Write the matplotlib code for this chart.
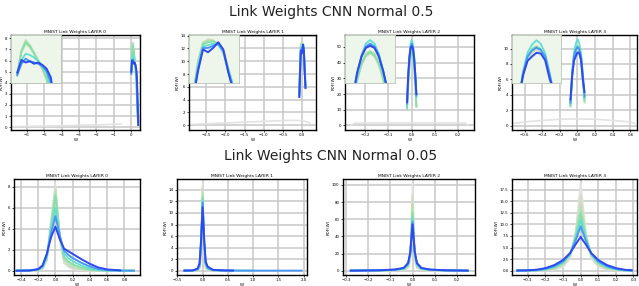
import numpy as np
import matplotlib
matplotlib.use("Agg")
import matplotlib.pyplot as plt

nan = float("nan")

# ---------------- data ----------------
SERIES_COLORS = ['#e2e2e2', '#d3dbc2', '#b2e3b2', '#86dfa6', '#62dfd3', '#4a98f4', '#2d4af0']
SERIES_WIDTHS = [1.3, 1.3, 1.3, 1.3, 1.3, 1.4, 1.4]

TOP_TITLE = "Link Weights CNN Normal 0.5"
BOTTOM_TITLE = "Link Weights CNN Normal 0.05"
LAYER_TITLES = ["MNIST Link Weights LAYER 0", "MNIST Link Weights LAYER 1",
                "MNIST Link Weights LAYER 2", "MNIST Link Weights LAYER 3"]

# top row (Normal 0.5): faint broad series + narrow series (beige..blue)
T1_FAINT_X = [-6.9, -6.0, -5.0, -4.0, -3.0, -2.0, -1.0, -0.6]
T1_FAINT_Y = [0.05, 0.08, 0.10, 0.13, 0.17, 0.21, 0.26, 0.28]
T1_X = [0.00, 0.04, 0.08, 0.12, 0.16, 0.20, 0.24, 0.28, 0.32, 0.36, 0.40]
T1_Y = [
    [4.7, 6.6, 7.3, 7.0, 6.5, 5.9, 5.2, 4.4, 2.8, 1.1, 0.2],
    [4.8, 6.8, 7.6, 7.2, 6.6, 6.0, 5.4, 4.6, 3.0, 1.2, 0.2],
    [5.0, 6.7, 7.4, 7.1, 6.5, 5.9, 5.3, 4.5, 2.9, 1.2, 0.2],
    [4.9, 6.0, 6.5, 6.4, 6.2, 5.9, 5.5, 5.0, 3.6, 1.6, 0.3],
    [4.8, 5.7, 6.1, 5.9, 5.8, 5.7, 5.5, 5.1, 4.2, 2.2, 0.5],
    [5.0, 6.0, 5.8, 5.9, 5.7, 5.8, 5.6, 5.3, 4.6, 2.4, 0.2],
]
T2_FAINT_X = [-2.8, -2.4, -2.0, -1.6, -1.2, -0.8, -0.4, 0.0, 0.21]
T2_FAINT_Y = [0.15, 0.25, 0.35, 0.45, 0.55, 0.65, 0.75, 0.75, 0.35]
T2_X = [-0.07, -0.05, -0.03, -0.01, 0.01, 0.03, 0.05, 0.07, 0.09]
T2_Y = [
    [5.0, 9.8, 12.6, 13.0, 12.9, 12.2, 11.0, 8.3, 5.8],
    [5.2, 10.0, 12.5, 12.8, 12.8, 12.3, 11.2, 8.6, 6.0],
    [5.0, 9.5, 12.3, 12.6, 12.7, 12.4, 11.5, 9.0, 6.5],
    [4.8, 9.2, 12.0, 12.2, 12.4, 12.2, 11.3, 8.7, 6.2],
    [4.6, 8.8, 11.8, 11.8, 12.1, 12.4, 11.4, 8.5, 6.0],
    [4.4, 8.5, 11.6, 11.2, 11.8, 12.6, 11.6, 8.4, 5.8],
]
T3_FAINT_X = [-0.26, -0.24, -0.20, -0.10, 0.00, 0.10, 0.20, 0.23, 0.24]
T3_FAINT_Y = [0.3, 1.5, 1.6, 1.6, 1.6, 1.6, 1.6, 1.5, 0.3]
T3_X = [-0.020, -0.015, -0.010, -0.005, 0.000, 0.005, 0.010, 0.015, 0.020]
T3_Y = [
    [10.5, 26, 37, 43, 45.0, 43, 37, 27, 12],
    [11.0, 27, 38, 45, 47.0, 45, 39, 28, 13],
    [10.5, 27, 38, 44, 46.0, 44, 38, 28, 12],
    [12.0, 30, 44, 52, 54.5, 52, 45, 33, 18],
    [14.0, 31, 43, 50, 52.0, 50, 44, 33, 19],
    [15.0, 32, 43, 49, 50.5, 49, 43, 33, 20],
]
T4_FAINT_X = [-0.73, -0.6, -0.4, -0.2, 0.0, 0.2, 0.4, 0.6, 0.65]
T4_FAINT_Y = [0.3, 0.5, 0.7, 0.85, 0.9, 0.85, 0.7, 0.5, 0.3]
T4_X = [-0.08, -0.06, -0.04, -0.02, 0.00, 0.02, 0.04, 0.06, 0.08]
T4_Y = [
    [2.6, 6.2, 8.5, 9.5, 9.9, 9.5, 8.3, 5.8, 3.0],
    [2.5, 6.4, 8.8, 9.8, 10.2, 9.8, 8.6, 6.1, 3.1],
    [2.6, 6.6, 9.0, 10.0, 10.4, 10.0, 8.8, 6.3, 3.3],
    [2.8, 7.0, 9.5, 10.6, 11.2, 10.7, 9.4, 6.8, 3.6],
    [3.0, 6.8, 9.0, 9.8, 10.2, 9.9, 9.0, 6.6, 3.8],
    [3.4, 6.5, 8.4, 9.0, 9.5, 9.4, 8.5, 6.0, 4.4],
]

# bottom row (Normal 0.05): gray..blue
B1_X = [-0.45, -0.3, -0.2, -0.15, -0.1, -0.05, 0.0, 0.05, 0.1, 0.15, 0.2, 0.3, 0.4, 0.5, 0.6, 0.75, 0.91]
B1_Y = [
    [0, 0, 0.04, 0.15, 0.9, 4.8, 8.3, 3.0, 0.7, 0.35, 0.15, 0.05, 0.01, 0, 0, 0, 0],
    [0, 0, 0.05, 0.2, 1.0, 4.6, 8.0, 3.2, 0.9, 0.5, 0.25, 0.1, 0.02, 0, 0, 0, 0],
    [0, 0, 0.06, 0.25, 1.1, 4.5, 7.6, 3.3, 1.1, 0.7, 0.4, 0.15, 0.05, 0.01, 0, 0, 0],
    [0, 0.01, 0.08, 0.3, 1.2, 4.3, 7.2, 3.5, 1.3, 0.9, 0.6, 0.3, 0.1, 0.03, 0.01, 0, 0],
    [0, 0.01, 0.1, 0.35, 1.4, 4.0, 6.0, 3.4, 1.6, 1.2, 0.9, 0.5, 0.2, 0.07, 0.02, 0, 0],
    [0, 0.02, 0.12, 0.4, 1.5, 3.6, 5.2, 3.3, 1.9, 1.5, 1.2, 0.75, 0.4, 0.15, 0.05, 0.01, 0],
    [0, 0.02, 0.15, 0.5, 1.6, 3.2, 4.2, 3.0, 2.1, 1.85, 1.6, 1.1, 0.65, 0.3, 0.12, 0.03, nan],
]
B2_X = [-0.36, -0.2, -0.1, -0.06, -0.03, 0.0, 0.03, 0.06, 0.1, 0.2, 0.4, 0.6, 1.0, 1.5, 1.96]
B2_Y = [
    [0, 0, 0.05, 0.3, 3.0, 15.2, 3.2, 0.4, 0.08, 0.01, 0, 0, nan, nan, nan],
    [0, 0, 0.08, 0.45, 3.5, 14.5, 3.8, 0.6, 0.12, 0.02, 0, 0, nan, nan, nan],
    [0, 0.01, 0.12, 0.6, 4.0, 13.6, 4.3, 0.8, 0.2, 0.04, 0.01, 0, nan, nan, nan],
    [0, 0.01, 0.15, 0.8, 4.4, 12.8, 4.7, 1.0, 0.3, 0.06, 0.01, 0, nan, nan, nan],
    [0, 0.02, 0.2, 0.9, 4.8, 12.3, 5.0, 1.2, 0.4, 0.08, 0.02, 0, 0, nan, nan],
    [0, 0.02, 0.25, 1.0, 5.0, 11.8, 5.2, 1.3, 0.5, 0.1, 0.03, 0.01, 0, 0, 0],
    [0, 0.03, 0.35, 1.3, 5.4, 11.0, 5.6, 1.6, 0.7, 0.15, 0.04, 0.01, nan, nan, nan],
]
B3_X = [-0.28, -0.15, -0.08, -0.04, -0.02, -0.01, 0.0, 0.01, 0.02, 0.04, 0.08, 0.15, 0.25]
B3_Y = [
    [0, 0, 0.2, 0.8, 3, 12, 102, 12, 3, 0.8, 0.2, 0, 0],
    [0, 0.05, 0.3, 1.2, 4, 15, 88, 15, 4, 1.2, 0.3, 0.05, 0],
    [0, 0.1, 0.5, 1.6, 5, 17, 78, 17, 5, 1.6, 0.5, 0.1, 0],
    [0, 0.15, 0.7, 2.0, 6, 19, 68, 19, 6, 2.0, 0.7, 0.15, 0],
    [0, 0.2, 0.9, 2.4, 7, 20, 62, 20, 7, 2.4, 0.9, 0.2, 0],
    [0, 0.3, 1.1, 2.8, 8, 21, 57, 21, 8, 2.8, 1.1, 0.3, 0],
    [0, 0.4, 1.3, 3.2, 9, 22, 54, 22, 9, 3.2, 1.3, 0.4, 0],
]
B4_X = [-0.36, -0.3, -0.25, -0.2, -0.15, -0.1, -0.06, -0.03, 0.0, 0.03, 0.06, 0.1, 0.15, 0.2, 0.25, 0.29]
B4_Y = [
    [0, 0, 0.02, 0.06, 0.2, 0.8, 2.6, 8.0, 18.9, 8.0, 2.6, 0.8, 0.2, 0.06, 0.02, 0],
    [0, 0, 0.03, 0.1, 0.35, 1.1, 3.0, 7.8, 16.0, 7.8, 3.0, 1.1, 0.35, 0.1, 0.03, 0],
    [0, 0.01, 0.04, 0.15, 0.5, 1.35, 3.3, 7.5, 14.0, 7.5, 3.3, 1.35, 0.5, 0.15, 0.04, 0.01],
    [0, 0.02, 0.06, 0.22, 0.65, 1.6, 3.5, 7.2, 12.5, 7.2, 3.5, 1.6, 0.65, 0.22, 0.06, 0.02],
    [0.01, 0.03, 0.08, 0.3, 0.8, 1.8, 3.6, 6.8, 11.0, 6.8, 3.6, 1.8, 0.8, 0.3, 0.08, 0.03],
    [0.01, 0.04, 0.12, 0.4, 0.95, 2.0, 3.7, 6.4, 9.6, 6.4, 3.7, 2.0, 0.95, 0.4, 0.12, 0.04],
    [0.03, 0.08, 0.2, 0.55, 1.2, 2.3, 3.8, 5.6, 7.3, 5.6, 3.8, 2.3, 1.2, 0.55, 0.2, 0.08],
]

TOP_PANELS = [
    dict(fx=T1_FAINT_X, fy=T1_FAINT_Y, x=T1_X, y=T1_Y, xlim=(-6.9, 0.5), ylim=(-0.25, 8.3),
         ixlim=(-0.06, 0.42), iylim=(4.2, 8.0)),
    dict(fx=T2_FAINT_X, fy=T2_FAINT_Y, x=T2_X, y=T2_Y, xlim=(-2.95, 0.365), ylim=(-0.75, 14.1),
         ixlim=(-0.085, 0.11), iylim=(7.0, 13.6)),
    dict(fx=T3_FAINT_X, fy=T3_FAINT_Y, x=T3_X, y=T3_Y, xlim=(-0.286, 0.267), ylim=(-2.9, 57.6),
         ixlim=(-0.029, 0.029), iylim=(25, 58)),
    dict(fx=T4_FAINT_X, fy=T4_FAINT_Y, x=T4_X, y=T4_Y, xlim=(-0.743, 0.675), ylim=(-0.54, 11.75),
         ixlim=(-0.11, 0.11), iylim=(5.5, 11.9)),
]
BOTTOM_PANELS = [
    dict(x=B1_X, y=B1_Y, xlim=(-0.48, 0.98), ylim=(-0.41, 8.73)),
    dict(x=B2_X, y=B2_Y, xlim=(-0.507, 2.066), ylim=(-0.76, 15.9)),
    dict(x=B3_X, y=B3_Y, xlim=(-0.315, 0.283), ylim=(-5.1, 107)),
    dict(x=B4_X, y=B4_Y, xlim=(-0.39, 0.32), ylim=(-0.94, 19.8)),
]

# ---------------- layout ----------------
W, H = 639, 286
TOP_BOXES = [(11, 140), (189, 316), (345, 474), (512, 637)]
TOP_Y = (35, 130)
BOT_BOXES = [(14, 140), (177, 307), (343, 475), (512, 637)]
BOT_Y = (179, 275)

fig = plt.figure(figsize=(W / 100, H / 100), dpi=100)
fig.patch.set_facecolor('white')


def make_axes(xb, yb):
    return fig.add_axes([xb[0] / W, 1 - yb[1] / H, (xb[1] - xb[0]) / W, (yb[1] - yb[0]) / H])


def style(ax, title):
    ax.set_title(title, fontsize=3.2, pad=1.5)
    ax.set_xlabel("W", fontsize=3, labelpad=0.5)
    ax.set_ylabel("PDF(W)", fontsize=3, labelpad=1)
    ax.tick_params(labelsize=2.8, length=1.5, width=0.5, pad=1)
    ax.grid(True, color='#c8c8c8', linewidth=1.1)
    ax.set_axisbelow(True)
    for s in ax.spines.values():
        s.set_color('black')
        s.set_linewidth(1.0)


for i, p in enumerate(TOP_PANELS):
    ax = make_axes(TOP_BOXES[i], TOP_Y)
    ax.plot(p['fx'], p['fy'], color=SERIES_COLORS[0], lw=1.2)
    for k, yy in enumerate(p['y']):
        ax.plot(p['x'], yy, color=SERIES_COLORS[k + 1], lw=SERIES_WIDTHS[k + 1])
    ax.set_xlim(*p['xlim'])
    ax.set_ylim(*p['ylim'])
    style(ax, LAYER_TITLES[i])
    ins = ax.inset_axes([0, 0.5, 0.39, 0.5])
    ins.set_facecolor('#eef6ec')
    for k, yy in enumerate(p['y']):
        ins.plot(p['x'], yy, color=SERIES_COLORS[k + 1], lw=SERIES_WIDTHS[k + 1])
    ins.set_xlim(*p['ixlim'])
    ins.set_ylim(*p['iylim'])
    ins.set_xticks([])
    ins.set_yticks([])
    for s in ins.spines.values():
        s.set_color('#b8c4b4')
        s.set_linewidth(0.6)

for i, p in enumerate(BOTTOM_PANELS):
    ax = make_axes(BOT_BOXES[i], BOT_Y)
    for k, yy in enumerate(p['y']):
        ax.plot(p['x'], yy, color=SERIES_COLORS[k], lw=SERIES_WIDTHS[k])
    ax.set_xlim(*p['xlim'])
    ax.set_ylim(*p['ylim'])
    style(ax, LAYER_TITLES[i])

fig.text(0.518, 1 - 12 / H, TOP_TITLE, ha='center', va='center', fontsize=10, color='#222222')
fig.text(0.518, 1 - 156 / H, BOTTOM_TITLE, ha='center', va='center', fontsize=10, color='#222222')

fig.savefig("out.png", dpi=100, facecolor='white')
